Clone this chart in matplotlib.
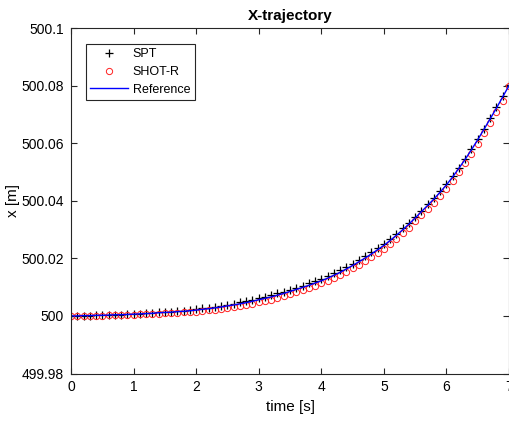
import numpy as np
import matplotlib
matplotlib.use('Agg')
import matplotlib.pyplot as plt

plt.rcParams['font.family'] = ['Liberation Sans', 'DejaVu Sans']

# time samples (s)
t = np.round(np.arange(0, 71) * 0.1, 1)

# reference trajectory offset from 500 m
ref = [0.0000, 0.0000, 0.0001, 0.0001, 0.0002, 0.0002, 0.0003, 0.0004, 0.0004, 0.0005,
       0.0006, 0.0007, 0.0008, 0.0009, 0.0011, 0.0012, 0.0013, 0.0015, 0.0016, 0.0018,
       0.0020, 0.0023, 0.0025, 0.0028, 0.0031, 0.0035, 0.0038, 0.0042, 0.0046, 0.0051,
       0.0056, 0.0061, 0.0066, 0.0072, 0.0078, 0.0085, 0.0092, 0.0099, 0.0106, 0.0114,
       0.0122, 0.0131, 0.0141, 0.0151, 0.0163, 0.0175, 0.0188, 0.0201, 0.0215, 0.0230,
       0.0245, 0.0262, 0.0280, 0.0299, 0.0319, 0.0340, 0.0362, 0.0384, 0.0406, 0.0430,
       0.0455, 0.0483, 0.0513, 0.0544, 0.0577, 0.0612, 0.0648, 0.0685, 0.0722, 0.0761,
       0.0800]

spt = [0.0000, 0.0000, 0.0001, 0.0001, 0.0002, 0.0002, 0.0003, 0.0004, 0.0004, 0.0005,
       0.0007, 0.0008, 0.0009, 0.0010, 0.0012, 0.0013, 0.0015, 0.0017, 0.0018, 0.0021,
       0.0023, 0.0026, 0.0029, 0.0032, 0.0035, 0.0039, 0.0043, 0.0047, 0.0051, 0.0056,
       0.0062, 0.0067, 0.0072, 0.0078, 0.0084, 0.0091, 0.0098, 0.0105, 0.0113, 0.0121,
       0.0129, 0.0138, 0.0148, 0.0158, 0.0170, 0.0182, 0.0195, 0.0208, 0.0222, 0.0236,
       0.0251, 0.0267, 0.0285, 0.0304, 0.0323, 0.0344, 0.0366, 0.0388, 0.0410, 0.0433,
       0.0458, 0.0485, 0.0515, 0.0546, 0.0579, 0.0614, 0.0650, 0.0687, 0.0724, 0.0763,
       0.0802]

shot_r = [0.0000, 0.0000, 0.0000, 0.0001, 0.0001, 0.0001, 0.0002, 0.0003, 0.0003, 0.0004,
          0.0004, 0.0005, 0.0006, 0.0007, 0.0008, 0.0009, 0.0010, 0.0011, 0.0012, 0.0014,
          0.0015, 0.0018, 0.0020, 0.0022, 0.0025, 0.0029, 0.0032, 0.0035, 0.0039, 0.0043,
          0.0047, 0.0052, 0.0057, 0.0063, 0.0069, 0.0076, 0.0083, 0.0090, 0.0097, 0.0105,
          0.0113, 0.0122, 0.0131, 0.0141, 0.0153, 0.0165, 0.0177, 0.0190, 0.0204, 0.0218,
          0.0233, 0.0250, 0.0268, 0.0287, 0.0307, 0.0328, 0.0349, 0.0371, 0.0393, 0.0417,
          0.0442, 0.0469, 0.0499, 0.0530, 0.0563, 0.0598, 0.0634, 0.0671, 0.0709, 0.0748,
          0.0797]

x_ticks = [0, 1, 2, 3, 4, 5, 6, 7]
y_ticks = [499.98, 500.0, 500.02, 500.04, 500.06, 500.08, 500.1]
y_tick_labels = ['499.98', '500', '500.02', '500.04', '500.06', '500.08', '500.1']

base = 500.0
fig = plt.figure(figsize=(5.09, 4.22), dpi=100)
ax = fig.add_axes([71 / 509, (422 - 373.5) / 422, 438 / 509, 345.5 / 422])

ax.plot(t, base + np.array(spt), linestyle='none', marker='+', color='black',
        markersize=5.5, markeredgewidth=0.9, label='SPT')
ax.plot(t, base + np.array(shot_r), linestyle='none', marker='o', markerfacecolor='none',
        markeredgecolor='#ff2020', markersize=4.5, markeredgewidth=0.7, label='SHOT-R')
ax.plot(t, base + np.array(ref), color='blue', linewidth=1.0, label='Reference')

ax.set_xlim(0, 7)
ax.set_ylim(499.98, 500.1)
ax.set_xticks(x_ticks)
ax.set_yticks(y_ticks)
ax.set_yticklabels(y_tick_labels)

edge = '#262626'
for s in ax.spines.values():
    s.set_color(edge)
    s.set_linewidth(0.8)
ax.tick_params(direction='in', length=4, width=0.8, color=edge, labelsize=10,
               top=True, right=True, pad=5)

ax.set_title('X-trajectory', fontsize=11, fontweight='bold', pad=6)
ax.set_xlabel('time [s]', fontsize=11, labelpad=4)
ax.set_ylabel('x [m]', fontsize=11, labelpad=1)

leg = ax.legend(loc='upper left', bbox_to_anchor=(0.034, 0.954), borderaxespad=0,
                fontsize=9, fancybox=False, framealpha=1, edgecolor=edge,
                borderpad=0.35, handlelength=3.0, labelspacing=0.45, handletextpad=0.4)
leg.get_frame().set_linewidth(0.8)

fig.savefig('out.png', dpi=100)
